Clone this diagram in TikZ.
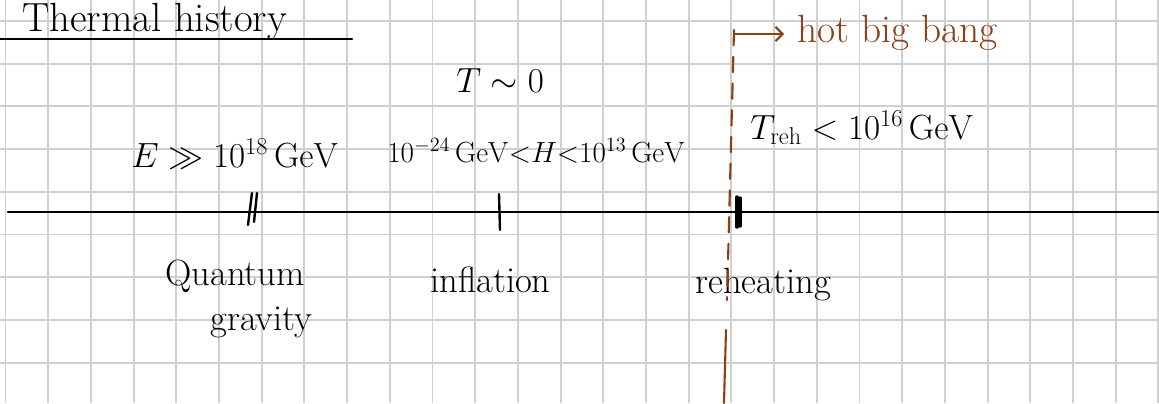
\documentclass[tikz,border=0pt]{standalone}
\usetikzlibrary{arrows.meta}
\definecolor{inkbrown}{RGB}{140,62,20}
\definecolor{gridgray}{RGB}{208,208,208}
\tikzstyle{gridline}=[draw=gridgray,line width=1.4pt]
\tikzstyle{ink}=[draw=black,line width=1.7pt,line cap=round,line join=round]
\tikzstyle{brownink}=[draw=inkbrown,line width=1.5pt,line cap=round,line join=round]
\tikzstyle{handtext}=[inner sep=0pt,anchor=base west,font=\fontsize{26}{30}\selectfont]

\begin{document}
\begin{tikzpicture}[x=0.025cm,y=-0.025cm]
\useasboundingbox (0,0) rectangle (1159,403);
\path[clip] (0,0) rectangle (1159,403);
%Grid paper
	\foreach \gx in {0,...,27} \draw[gridline] ({5.5+42.7*\gx},0) -- ++(0,403);
	\foreach \gy in {0,...,8} \draw[gridline] (0,{21+42.7*\gy}) -- ++(1159,0);
%Title
	\node[handtext,font=\fontsize{29}{33}\selectfont] (title) at (22,31) {Thermal history};
	\coordinate (ul0) at (0,39);
	\draw[ink] (ul0) -- ++(352,0);
%Timeline
	\coordinate (t0) at (8,212);
	\coordinate (t1) at (1159,212);
	\draw[ink,line width=2pt] (t0) -- (t1);
	\coordinate (QG) at (252,212);
	\coordinate (INF) at (499,212);
	\coordinate (RH) at (738,212);
	\draw[ink] (QG) ++(-4,13) -- ++(4,-32) (QG) ++(2,10) -- ++(3,-29);
	\draw[ink] (INF) ++(0,-18) -- ++(1,36);
	\draw[ink,line width=2.4pt] (RH) ++(-1,-15) -- ++(0,30) (RH) ++(2,-14) -- ++(0,28);
%Scales above the line
	\node[handtext,font=\fontsize{24}{28}\selectfont] (Eqg) at (131,167) {$E \gg 10^{18}\,\mathrm{GeV}$};
	\node[handtext,font=\fontsize{28}{32}\selectfont] (Tzero) at (456,92) {$T\sim 0$};
	\node[handtext,font=\fontsize{20}{24}\selectfont] (Hinf) at (387,162) {$10^{-24}\,\mathrm{GeV}{<}H{<}10^{13}\,\mathrm{GeV}$};
	\node[handtext,font=\fontsize{25}{29}\selectfont] (Treh) at (750,139) {$T_{\mathrm{reh}} < 10^{16}\,\mathrm{GeV}$};
%Epochs below the line
	\node[handtext] (qg1) at (165,285) {Quantum};
	\node[handtext] (qg2) at (210,330) {gravity};
	\node[handtext] (inf) at (430,292) {inflation};
	\node[handtext] (reh) at (695,293) {reheating};
%Hot big bang marker
	\coordinate (bb0) at (734,30);
	\coordinate (bb2) at (727,300);
	\coordinate (bb3) at (726,330);
	\coordinate (bb1) at (724,403);
	\node[handtext,text=inkbrown,font=\fontsize{28}{32}\selectfont] (hbb) at (797,42) {hot big bang};
	\draw[brownink,-{Straight Barb[length=5pt,width=10pt]}] (bb0) ++(0,4) -- ++(50,0);
	\draw[brownink,dash pattern=on 11pt off 8pt] (bb0) -- (bb2);
	\draw[brownink] (bb3) -- (bb1);
\end{tikzpicture}
\end{document}
